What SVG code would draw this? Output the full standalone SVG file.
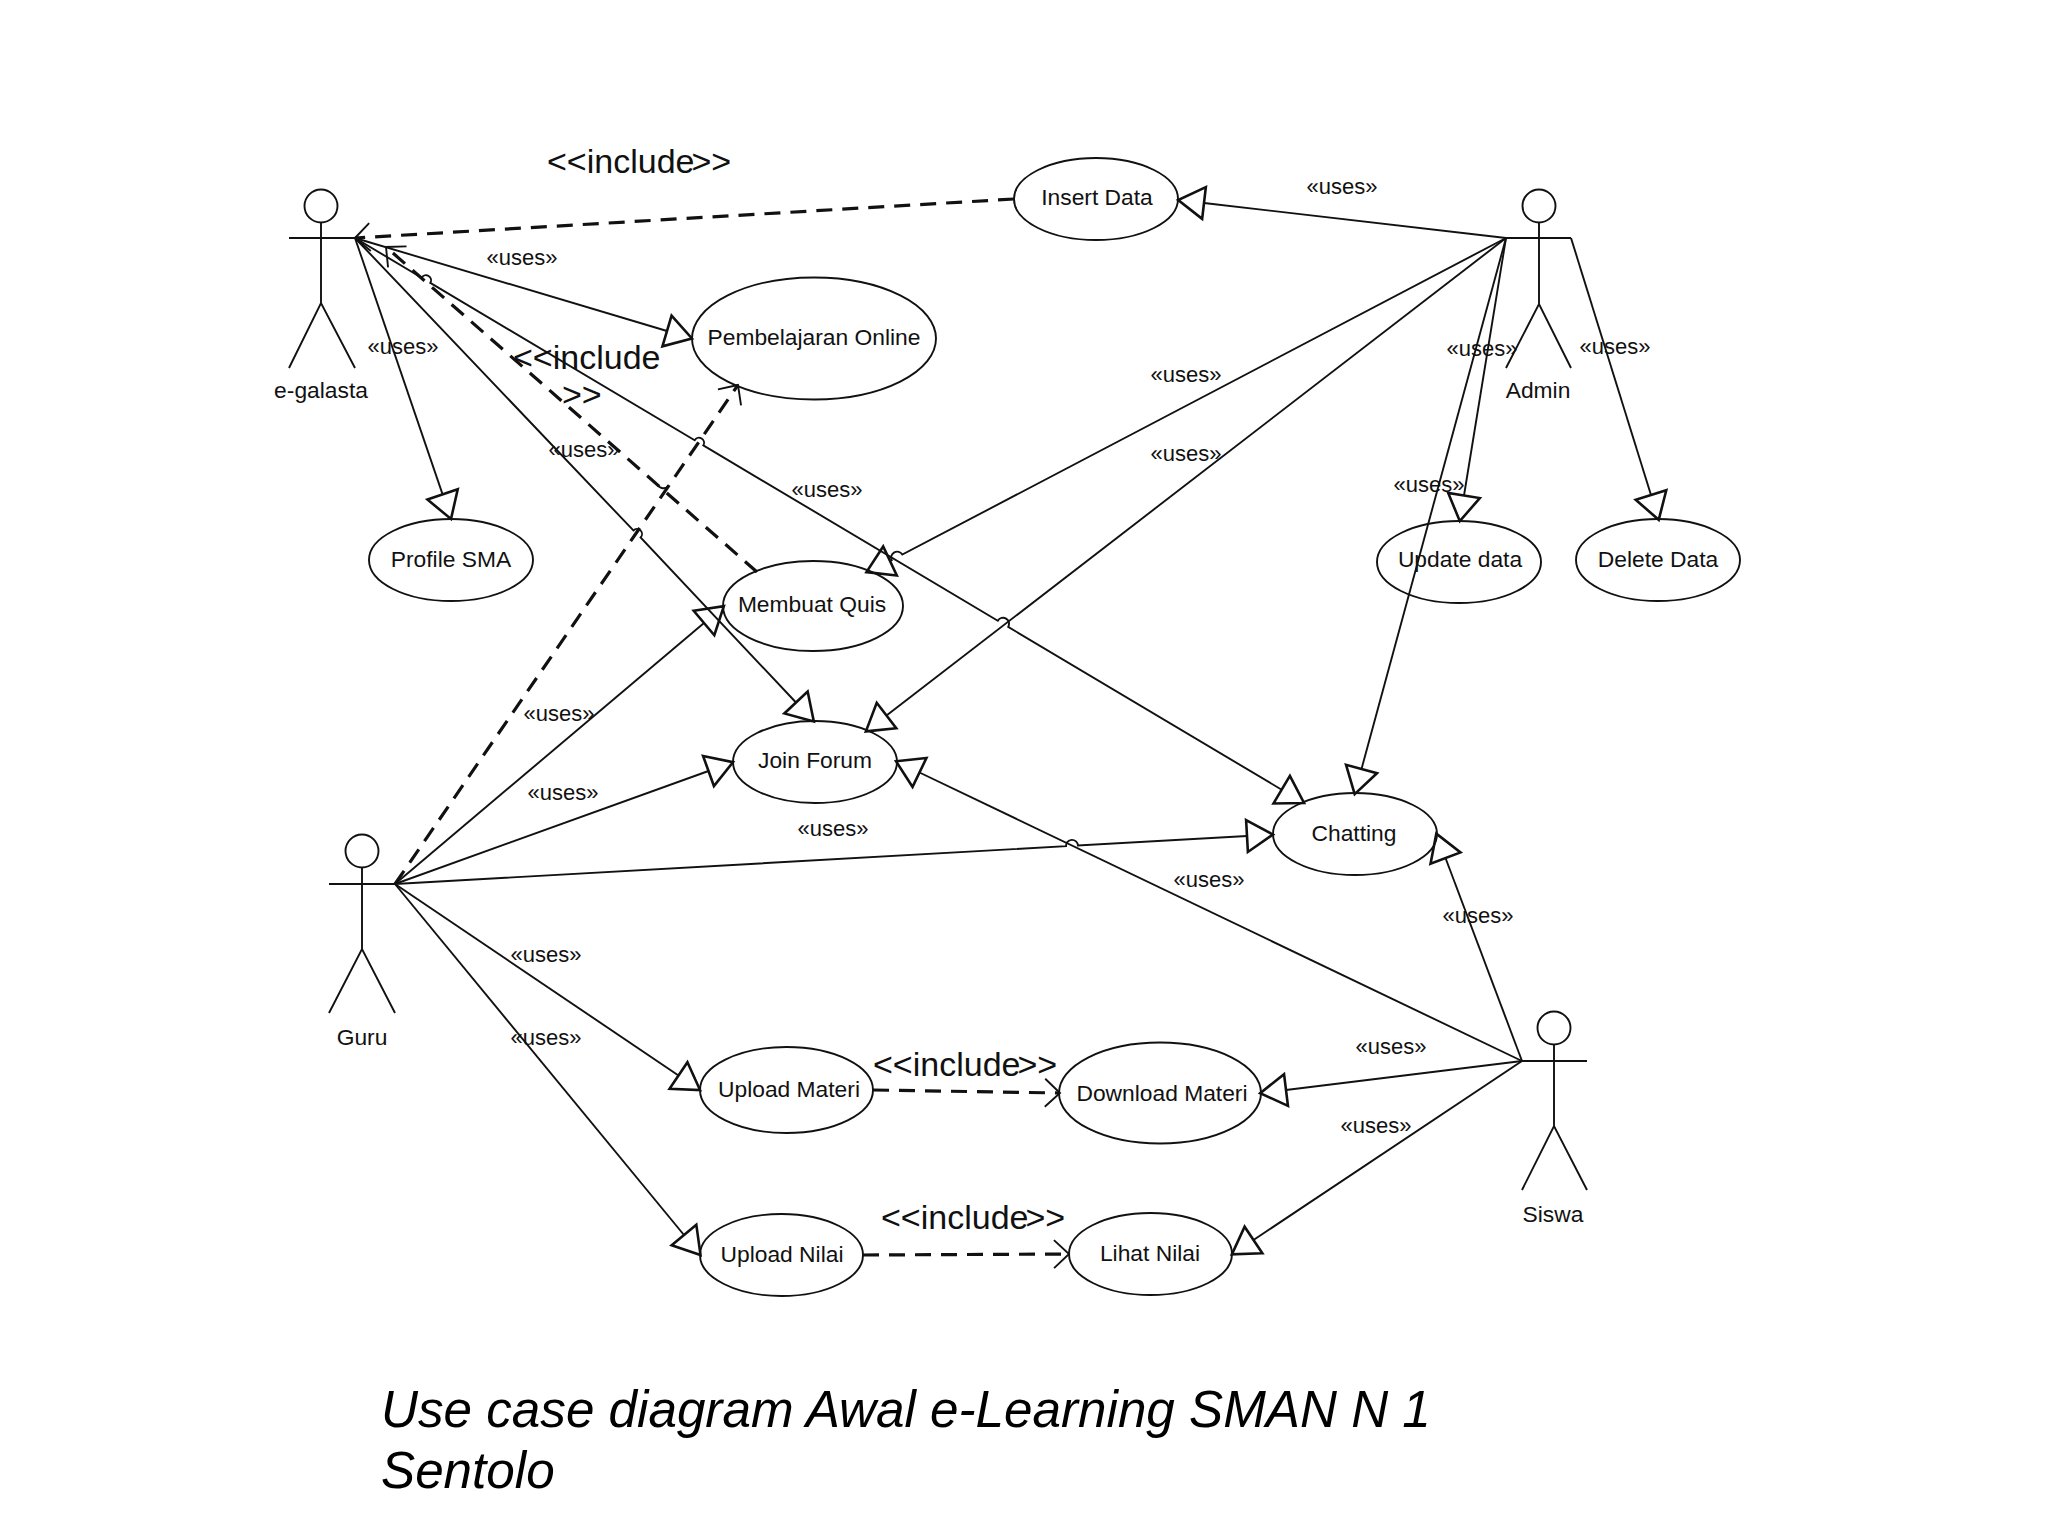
<svg xmlns="http://www.w3.org/2000/svg" width="2048" height="1536" viewBox="0 0 2048 1536">
<style>
text{font-family:"Liberation Sans",Arial,sans-serif;fill:#111}
.n{font-size:22.800px;text-anchor:middle}
.u{font-size:22px;text-anchor:middle}
.i{font-size:34px}
.cap{font-size:51.200px;font-style:italic;fill:#000}
.sh{fill:none;stroke:#111;stroke-width:1.9}
.c{fill:none;stroke:#111;stroke-width:1.9}
.g{marker-end:url(#tri)}
.d{fill:none;stroke:#111;stroke-width:3.2;stroke-dasharray:16 10;marker-end:url(#open)}
</style>
<defs>
<marker id="tri" markerUnits="userSpaceOnUse" markerWidth="40" markerHeight="40" refX="2" refY="20" orient="auto" overflow="visible"><path d="M2,4 L28,20 L2,36 Z" fill="none" stroke="#111" stroke-width="2.6"/></marker>
<marker id="open" markerUnits="userSpaceOnUse" markerWidth="30" markerHeight="40" refX="20" refY="20" orient="auto" overflow="visible"><path d="M5,6 L20,20 L5,34" fill="none" stroke="#111" stroke-width="1.9"/></marker>
</defs>
<g id="connectors">
<path class="d" d="M1014 199L355 238"/>
<path class="d" d="M757 572L386 247"/>
<path class="d" d="M395 884L738 385"/>
<path class="d" d="M873 1090L1060 1093"/>
<path class="d" d="M863 1255L1069 1254"/>
<path class="c" d="M658 485A6 6 0 0 0 668 486"/>
<path class="c g" d="M355 238L667 331"/>
<path class="c g" d="M355 238L442.6 494.4"/>
<path class="c g" d="M355 238L633.4 530.5A5 5 0 0 1 640.6 537.5L796 702.5"/>
<path class="c g" d="M355 238L421.7 277.7A5 5 0 0 1 430.3 282.9L694.7 440.2A5 5 0 0 1 703.3 445.4L997.8 620.7A6 6 0 0 1 1008.2 626.9L1281.7 789.7"/>
<path class="c g" d="M395 884L704 623"/>
<path class="c g" d="M395 884L708.5 771"/>
<path class="c g" d="M395 884L1066 846.2A6 6 0 0 1 1078 845.5L1247 836"/>
<path class="c g" d="M395 884L678.5 1075.5"/>
<path class="c g" d="M395 884L684 1235"/>
<path class="c g" d="M1506 238L1204 203"/>
<path class="c g" d="M1506 238L902.3 554.6A6 6 0 0 0 891.7 560.2L890 561"/>
<path class="c g" d="M1506 238L886.5 715.5"/>
<path class="c g" d="M1506 238L1464 495.5"/>
<path class="c g" d="M1506 238L1361.5 769"/>
<path class="c g" d="M1571 238L1651 495"/>
<path class="c g" d="M1522 1061L1445.5 858"/>
<path class="c g" d="M1522 1061L919.5 772.5"/>
<path class="c g" d="M1522 1061L1286 1090"/>
<path class="c g" d="M1522 1061L1253.5 1240"/>
</g>
<g id="actor-e-galasta"><circle class="sh" cx="321" cy="206" r="16.5"/><path class="sh" d="M289 238H355M321 222.500V303M289 368L321 303L355 368"/><text class="n" x="321" y="398">e-galasta</text></g>
<g id="actor-admin"><circle class="sh" cx="1539" cy="206" r="16.5"/><path class="sh" d="M1506 238H1571M1539 222.500V304M1506 368L1539 304L1571 368"/><text class="n" x="1538" y="398">Admin</text></g>
<g id="actor-guru"><circle class="sh" cx="362" cy="851" r="16.5"/><path class="sh" d="M329 884H395M362 867.500V949M329 1013L362 949L395 1013"/><text class="n" x="362" y="1045">Guru</text></g>
<g id="actor-siswa"><circle class="sh" cx="1554" cy="1028" r="16.5"/><path class="sh" d="M1522 1061H1587M1554 1044.500V1126M1522 1190L1554 1126L1587 1190"/><text class="n" x="1553" y="1222">Siswa</text></g>
<g id="uc-insert"><ellipse class="sh" cx="1096" cy="199" rx="82" ry="41"/><text class="n" x="1097" y="205">Insert Data</text></g>
<g id="uc-pembelajaran"><ellipse class="sh" cx="814" cy="338.500" rx="122" ry="61"/><text class="n" x="814" y="345">Pembelajaran Online</text></g>
<g id="uc-profile"><ellipse class="sh" cx="451" cy="560" rx="82" ry="41"/><text class="n" x="451" y="567">Profile SMA</text></g>
<g id="uc-quis"><ellipse class="sh" cx="813" cy="606" rx="90" ry="45"/><text class="n" x="812" y="612">Membuat Quis</text></g>
<g id="uc-forum"><ellipse class="sh" cx="815" cy="762" rx="82" ry="41"/><text class="n" x="815" y="768">Join Forum</text></g>
<g id="uc-chatting"><ellipse class="sh" cx="1355" cy="834" rx="82" ry="41"/><text class="n" x="1354" y="841">Chatting</text></g>
<g id="uc-update"><ellipse class="sh" cx="1459" cy="562" rx="82" ry="41"/><text class="n" x="1460" y="567">Update data</text></g>
<g id="uc-delete"><ellipse class="sh" cx="1658" cy="560" rx="82" ry="41"/><text class="n" x="1658" y="567">Delete Data</text></g>
<g id="uc-upload-materi"><ellipse class="sh" cx="786.500" cy="1090" rx="86.500" ry="43"/><text class="n" x="789" y="1097">Upload Materi</text></g>
<g id="uc-download-materi"><ellipse class="sh" cx="1160" cy="1093" rx="101" ry="50.500"/><text class="n" x="1162" y="1101">Download Materi</text></g>
<g id="uc-upload-nilai"><ellipse class="sh" cx="781.500" cy="1255" rx="81.500" ry="41"/><text class="n" x="782" y="1262">Upload Nilai</text></g>
<g id="uc-lihat-nilai"><ellipse class="sh" cx="1150.500" cy="1254" rx="81.500" ry="41"/><text class="n" x="1150" y="1261">Lihat Nilai</text></g>
<g id="uses-labels">
<text class="u" x="522" y="265">«uses»</text>
<text class="u" x="403" y="354">«uses»</text>
<text class="u" x="584" y="457">«uses»</text>
<text class="u" x="827" y="497">«uses»</text>
<text class="u" x="1186" y="382">«uses»</text>
<text class="u" x="1186" y="461">«uses»</text>
<text class="u" x="1342" y="194">«uses»</text>
<text class="u" x="1482" y="356">«uses»</text>
<text class="u" x="1615" y="354">«uses»</text>
<text class="u" x="1429" y="492">«uses»</text>
<text class="u" x="559" y="721">«uses»</text>
<text class="u" x="563" y="800">«uses»</text>
<text class="u" x="833" y="836">«uses»</text>
<text class="u" x="1209" y="887">«uses»</text>
<text class="u" x="1478" y="923">«uses»</text>
<text class="u" x="546" y="962">«uses»</text>
<text class="u" x="546" y="1045">«uses»</text>
<text class="u" x="1391" y="1054">«uses»</text>
<text class="u" x="1376" y="1133">«uses»</text>
</g>
<g id="include-labels">
<text class="i" x="547" y="173">&lt;&lt;include<tspan dx="-3">&gt;&gt;</tspan></text>
<text class="i" x="513" y="369">&lt;&lt;include</text>
<text class="i" x="562" y="406">&gt;&gt;</text>
<text class="i" x="873" y="1076">&lt;&lt;include<tspan dx="-3">&gt;&gt;</tspan></text>
<text class="i" x="881" y="1229">&lt;&lt;include<tspan dx="-3">&gt;&gt;</tspan></text>
</g>
<g id="caption">
<text class="cap" x="381" y="1427">Use case diagram Awal e-Learning SMAN N 1</text>
<text class="cap" x="381" y="1488">Sentolo</text>
</g>
</svg>
